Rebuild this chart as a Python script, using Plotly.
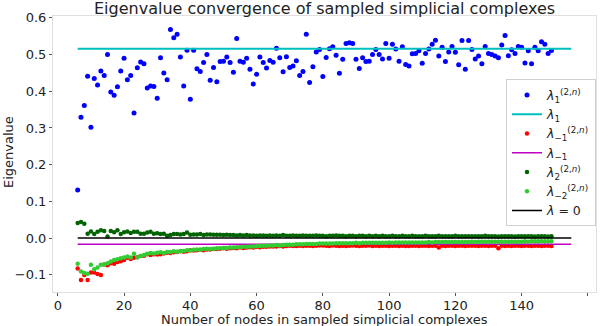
import plotly.graph_objects as go

x_nodes = list(range(6, 150))
line_x = [6, 155]

lam1_val = 0.516
lam_m1_val = -0.017

lam1_sampled = [
    0.131, 0.329, 0.361, 0.441, 0.302, 0.435, 0.417, 0.455, 0.443, 0.500,
    0.398, 0.389, 0.412, 0.455, 0.490, 0.431, 0.443, 0.341, 0.464, 0.480,
    0.475, 0.409, 0.414, 0.413, 0.381, 0.491, 0.450, 0.431, 0.568, 0.546,
    0.555, 0.493, 0.414, 0.512, 0.378, 0.512, 0.461, 0.454, 0.478, 0.500,
    0.430, 0.465, 0.426, 0.481, 0.482, 0.493, 0.478, 0.452, 0.544, 0.482,
    0.479, 0.490, 0.460, 0.420, 0.446, 0.493, 0.478, 0.463, 0.484, 0.479,
    0.517, 0.491, 0.453, 0.494, 0.465, 0.469, 0.483, 0.443, 0.454, 0.555,
    0.424, 0.467, 0.507, 0.514, 0.440, 0.492, 0.516, 0.521, 0.498, 0.449,
    0.487, 0.530, 0.532, 0.530, 0.487, 0.462, 0.491, 0.481, 0.482, 0.500,
    0.514, 0.500, 0.488, 0.530, 0.490, 0.528, 0.515, 0.482, 0.521, 0.473,
    0.469, 0.502, 0.503, 0.510, 0.476, 0.503, 0.515, 0.528, 0.539, 0.496,
    0.520, 0.481, 0.507, 0.522, 0.506, 0.472, 0.538, 0.460, 0.538, 0.514,
    0.488, 0.496, 0.475, 0.522, 0.503, 0.500, 0.496, 0.491, 0.526, 0.552,
    0.497, 0.513, 0.503, 0.522, 0.520, 0.477, 0.510, 0.475, 0.520, 0.510,
    0.535, 0.528, 0.503, 0.511,
]

lam_m1_sampled = [
    -0.083, -0.114, -0.101, -0.114, -0.094, -0.094, -0.098, -0.101, -0.072, -0.074,
    -0.069, -0.070, -0.065, -0.063, -0.060, -0.054, -0.057, -0.054, -0.052, -0.049,
    -0.048, -0.044, -0.046, -0.044, -0.045, -0.044, -0.042, -0.040, -0.041, -0.039,
    -0.038, -0.036, -0.037, -0.036, -0.033, -0.034, -0.033, -0.032, -0.033, -0.031,
    -0.031, -0.030, -0.030, -0.029, -0.028, -0.029, -0.028, -0.027, -0.028, -0.026,
    -0.027, -0.026, -0.025, -0.026, -0.024, -0.025, -0.024, -0.024, -0.023, -0.023,
    -0.023, -0.022, -0.023, -0.022, -0.021, -0.022, -0.022, -0.021, -0.022, -0.021,
    -0.021, -0.022, -0.021, -0.020, -0.020, -0.021, -0.022, -0.020, -0.021, -0.022,
    -0.021, -0.022, -0.021, -0.020, -0.021, -0.022, -0.021, -0.021, -0.020, -0.022,
    -0.021, -0.022, -0.021, -0.021, -0.022, -0.021, -0.021, -0.022, -0.021, -0.022,
    -0.022, -0.021, -0.021, -0.022, -0.021, -0.021, -0.022, -0.021, -0.021, -0.026,
    -0.021, -0.022, -0.021, -0.021, -0.022, -0.021, -0.021, -0.022, -0.021, -0.021,
    -0.021, -0.022, -0.021, -0.021, -0.022, -0.021, -0.021, -0.028, -0.021, -0.022,
    -0.021, -0.022, -0.021, -0.021, -0.022, -0.021, -0.021, -0.022, -0.021, -0.021,
    -0.022, -0.021, -0.021, -0.022,
]

lam2_sampled = [
    0.041, 0.044, 0.039, 0.012, 0.018, 0.011, 0.017, 0.021, 0.019, 0.004,
    0.019, 0.016, 0.021, 0.011, 0.016, 0.018, 0.014, 0.017, 0.017, 0.012,
    0.012, 0.015, 0.017, 0.012, 0.013, 0.011, 0.012, 0.006, 0.008, 0.011,
    0.011, 0.010, 0.011, 0.015, 0.009, 0.010, 0.010, 0.011, 0.008, 0.010,
    0.010, 0.009, 0.009, 0.009, 0.008, 0.009, 0.008, 0.008, 0.007, 0.008,
    0.007, 0.008, 0.007, 0.007, 0.006, 0.007, 0.007, 0.006, 0.007, 0.006,
    0.007, 0.006, 0.008, 0.006, 0.006, 0.007, 0.006, 0.006, 0.007, 0.006,
    0.006, 0.006, 0.007, 0.006, 0.006, 0.005, 0.006, 0.006, 0.007, 0.006,
    0.006, 0.005, 0.006, 0.006, 0.005, 0.006, 0.006, 0.005, 0.006, 0.005,
    0.006, 0.005, 0.006, 0.005, 0.005, 0.006, 0.005, 0.005, 0.006, 0.005,
    0.005, 0.006, 0.005, 0.005, 0.005, 0.006, 0.005, 0.005, 0.005, 0.006,
    0.005, 0.005, 0.005, 0.005, 0.006, 0.005, 0.005, 0.005, 0.005, 0.005,
    0.005, 0.005, 0.005, 0.006, 0.005, 0.005, 0.005, 0.004, 0.005, 0.005,
    0.005, 0.005, 0.004, 0.005, 0.005, 0.005, 0.005, 0.005, 0.004, 0.005,
    0.005, 0.005, 0.004, 0.005,
]

lam_m2_sampled = [
    -0.070, -0.091, -0.095, -0.097, -0.073, -0.085, -0.080, -0.073, -0.072, -0.069,
    -0.064, -0.060, -0.058, -0.055, -0.053, -0.050, -0.053, -0.043, -0.052, -0.049,
    -0.046, -0.043, -0.041, -0.042, -0.040, -0.039, -0.041, -0.038, -0.038, -0.036,
    -0.037, -0.035, -0.035, -0.033, -0.034, -0.032, -0.031, -0.032, -0.030, -0.029,
    -0.030, -0.029, -0.028, -0.028, -0.027, -0.027, -0.026, -0.026, -0.025, -0.025,
    -0.024, -0.024, -0.023, -0.023, -0.022, -0.022, -0.021, -0.021, -0.020, -0.020,
    -0.019, -0.020, -0.019, -0.018, -0.018, -0.018, -0.017, -0.017, -0.017, -0.016,
    -0.016, -0.016, -0.016, -0.015, -0.015, -0.015, -0.015, -0.015, -0.014, -0.014,
    -0.014, -0.014, -0.014, -0.014, -0.013, -0.014, -0.013, -0.013, -0.013, -0.013,
    -0.013, -0.013, -0.013, -0.013, -0.012, -0.013, -0.012, -0.012, -0.012, -0.012,
    -0.012, -0.012, -0.012, -0.012, -0.012, -0.012, -0.011, -0.012, -0.011, -0.011,
    -0.011, -0.011, -0.011, -0.011, -0.011, -0.011, -0.011, -0.011, -0.011, -0.010,
    -0.011, -0.010, -0.010, -0.010, -0.010, -0.010, -0.010, -0.010, -0.010, -0.010,
    -0.010, -0.010, -0.010, -0.010, -0.010, -0.009, -0.010, -0.009, -0.009, -0.009,
    -0.009, -0.009, -0.009, -0.009,
]

x_ticks = [0, 20, 40, 60, 80, 100, 120, 140, 160]
y_ticks = [-0.1, 0.0, 0.1, 0.2, 0.3, 0.4, 0.5, 0.6]

FONT = "DejaVu Sans"
TXT = "#222222"
L = "<i>λ</i>"

fig = go.Figure()
fig.add_trace(go.Scatter(x=x_nodes, y=lam1_sampled, mode="markers",
                         marker=dict(color="#0000ff", size=5),
                         name=L + "<sub>1</sub><sup>(2,<i>n</i>)</sup>"))
fig.add_trace(go.Scatter(x=line_x, y=[lam1_val, lam1_val], mode="lines",
                         line=dict(color="#00bfbf", width=2),
                         name=L + "<sub>1</sub>"))
fig.add_trace(go.Scatter(x=x_nodes, y=lam_m1_sampled, mode="markers",
                         marker=dict(color="#ff0000", size=4.5),
                         name=L + "<sub>−1</sub><sup>(2,<i>n</i>)</sup>"))
fig.add_trace(go.Scatter(x=line_x, y=[lam_m1_val, lam_m1_val], mode="lines",
                         line=dict(color="#bf00bf", width=1.5),
                         name=L + "<sub>−1</sub>"))
fig.add_trace(go.Scatter(x=x_nodes, y=lam2_sampled, mode="markers",
                         marker=dict(color="#006400", size=4.5),
                         name=L + "<sub>2</sub><sup>(2,<i>n</i>)</sup>"))
fig.add_trace(go.Scatter(x=x_nodes, y=lam_m2_sampled, mode="markers",
                         marker=dict(color="#32cd32", size=4.5),
                         name=L + "<sub>−2</sub><sup>(2,<i>n</i>)</sup>"))
fig.add_trace(go.Scatter(x=line_x, y=[0, 0], mode="lines",
                         line=dict(color="#000000", width=1.5),
                         name=L + " = 0"))

axis_common = dict(showgrid=False, zeroline=False, showline=True, linecolor="#e0e0e0",
                   linewidth=1, mirror=True, ticks="outside", ticklen=3,
                   tickcolor="#555555", automargin=False,
                   tickfont=dict(family=FONT, size=13, color=TXT))

fig.update_layout(
    width=600, height=326,
    margin=dict(l=53, r=4, t=16, b=34, autoexpand=False),
    paper_bgcolor="white", plot_bgcolor="white",
    font=dict(family=FONT, size=13, color=TXT),
    xaxis=dict(range=[-1.45, 162.45], tickvals=x_ticks, ticklabelstandoff=-2, **axis_common),
    yaxis=dict(range=[-0.147, 0.605], tickvals=y_ticks, tickformat=".1f", **axis_common),
    legend=dict(x=1, xanchor="right", y=0.77, yanchor="top",
                bordercolor="#d0d0d0", borderwidth=1, bgcolor="rgba(255,255,255,0.8)",
                font=dict(family=FONT, size=12.5, color=TXT),
                itemwidth=30, tracegroupgap=0),
    showlegend=True,
    annotations=[
        dict(text="Eigenvalue convergence of sampled simplicial complexes",
             xref="paper", yref="paper", x=0.5, y=1.0254, xanchor="center", yanchor="middle",
             showarrow=False, font=dict(family=FONT, size=16, color=TXT)),
        dict(text="Number of nodes in sampled simplicial complexes",
             xref="paper", yref="paper", x=0.5, y=-0.099, xanchor="center", yanchor="middle",
             showarrow=False, font=dict(family=FONT, size=13, color=TXT)),
        dict(text="Eigenvalue", textangle=-90,
             xref="paper", yref="paper", x=-0.0829, y=0.507, xanchor="center", yanchor="middle",
             showarrow=False, font=dict(family=FONT, size=13, color=TXT)),
    ],
)

fig.write_html("out.html", config={"displayModeBar": False},
               post_script="document.body.style.margin='0';document.body.style.overflow='hidden';")
